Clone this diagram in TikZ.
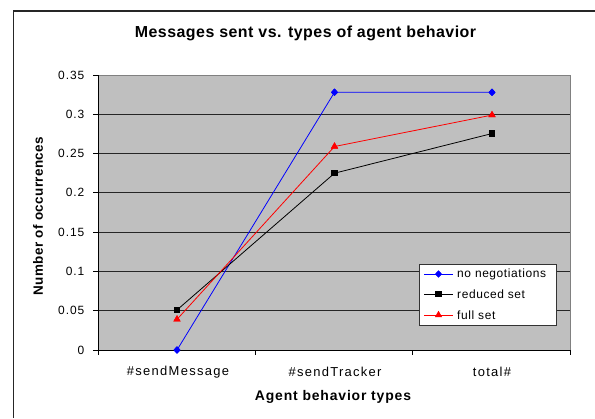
\documentclass[tikz,border=0pt]{standalone}
\usepackage{fontspec}
\newfontfamily\titlefont[LetterSpace=3]{Liberation Sans}
\newfontfamily\labelfont[LetterSpace=8]{Liberation Sans}
\newfontfamily\legfont[LetterSpace=5]{Liberation Sans}
\newfontfamily\catfont[LetterSpace=10]{Liberation Sans}
\newfontfamily\axisfont[LetterSpace=6]{Liberation Sans}
\newfontfamily\vaxisfont[LetterSpace=3]{Liberation Sans}
\usetikzlibrary{shapes.geometric}

% value -> vertical position in the plot area (0 at y=350, 0.35 at y=75)
\newcommand\yv[1]{350-#1*785.714}

\tikzset{
  frameline/.style={line width=1.2pt, draw=black!85},
  gridline/.style={line width=0.8pt, draw=black!85},
  axisline/.style={line width=0.9pt, draw=black},
  ticklabel/.style={font=\labelfont\fontsize{12}{14}\selectfont, inner sep=0pt},
  catlabel/.style={font=\catfont\fontsize{13}{15}\selectfont, inner sep=0pt},
  leglabel/.style={font=\legfont\fontsize{12}{14}\selectfont, inner sep=0pt},
  series/.style={line width=0.8pt},
  diam/.style={diamond, fill=blue, draw=blue, inner sep=0pt, minimum width=6.5pt, minimum height=7pt},
  sq/.style={rectangle, fill=black, inner sep=0pt, minimum size=6.5pt},
  tri/.style={regular polygon, regular polygon sides=3, fill=red, inner sep=0pt, minimum size=8.5pt},
}

\begin{document}
\begin{tikzpicture}[x=1bp, y=-1bp]
\useasboundingbox (0,0) rectangle (595,418);
\fill[white] (0,0) rectangle (595,418);

% chart frame (only its top and left sides lie inside the page)
\draw[frameline] (13.5,418) -- (13.5,11) -- (595,11);

% title
\node[font=\titlefont\bfseries\fontsize{16}{18}\selectfont, inner sep=0pt] (title) at (305.5,33) {Messages sent vs. types of agent behavior};

% plot area
\fill[black!25] (98,75) rectangle (570,350);
\foreach \v in {0.05,0.1,0.15,0.2,0.25,0.3}
  \draw[gridline] (98,{\yv{\v}}) -- (570,{\yv{\v}});
\draw[line width=0.9pt, draw=black!50] (98,75) -- (570,75) -- (570,350);

% axes
\draw[axisline] (98,350) -- (98,75);
\draw[axisline] (98,350) -- (570,350);
\foreach \v/\t in {0/0,0.05/0.05,0.1/0.1,0.15/0.15,0.2/0.2,0.25/0.25,0.3/0.3,0.35/0.35}{
  \draw[axisline] (93,{\yv{\v}}) -- (98,{\yv{\v}});
  \node[ticklabel, anchor=east] at (84.5,{\yv{\v}}) {\t};
}
\foreach \x in {98,255.3,412.7,570}
  \draw[axisline] (\x,350) -- (\x,355);

% category labels
\node[catlabel] (c1) at (178,372) {\#sendMessage};
\node[catlabel] (c2) at (335,372) {\#sendTracker};
\node[catlabel] (c3) at (492,372) {total\#};

% axis titles
\node[font=\axisfont\bfseries\fontsize{14}{16}\selectfont, inner sep=0pt] (xt) at (333,397) {Agent behavior types};
\node[font=\vaxisfont\bfseries\fontsize{13.5}{16}\selectfont, inner sep=0pt, rotate=90] (yt) at (38,216) {Number of occurrences};

% data points
\node[diam] (b1) at (177,{\yv{0}}) {};
\node[diam] (b2) at (334.5,{\yv{0.328}}) {};
\node[diam] (b3) at (492,{\yv{0.328}}) {};
\node[sq] (k1) at (177,{\yv{0.051}}) {};
\node[sq] (k2) at (334.5,{\yv{0.225}}) {};
\node[sq] (k3) at (492,{\yv{0.2755}}) {};
\node[tri] (r1) at (177,{\yv{0.039}}) {};
\node[tri] (r2) at (334.5,{\yv{0.259}}) {};
\node[tri] (r3) at (492,{\yv{0.299}}) {};

% series lines
\draw[series, blue] (b1.center) -- (b2.center) -- (b3.center);
\draw[series, black] (k1.center) -- (k2.center) -- (k3.center);
\draw[series, red] (r1.center) -- (r2.center) -- (r3.center);

% markers on top of the lines
\foreach \n in {b1,b2,b3} \node[diam] at (\n) {};
\foreach \n in {k1,k2,k3} \node[sq] at (\n) {};
\foreach \n in {r1,r2,r3} \node[tri] at (\n) {};

% legend
\node[draw=black!80, fill=white, line width=0.8pt, minimum width=137bp, minimum height=61bp, inner sep=0pt] (leg) at (487.5,294.5) {};
\coordinate (l1a) at (424,274); \coordinate (l1b) at (453,274);
\coordinate (l2a) at (424,294); \coordinate (l2b) at (453,294);
\coordinate (l3a) at (424,315); \coordinate (l3b) at (453,315);
\draw[series, blue] (l1a) -- (l1b);
\draw[series, black] (l2a) -- (l2b);
\draw[series, red] (l3a) -- (l3b);
\node[diam] at (438.5,274) {};
\node[sq] at (438.5,294) {};
\node[tri] at (438.5,315) {};
\node[leglabel, anchor=west] (n1) at (457,274) {no negotiations};
\node[leglabel, anchor=west] (n2) at (457,294) {reduced set};
\node[leglabel, anchor=west] (n3) at (457,315) {full set};
\end{tikzpicture}
\end{document}
